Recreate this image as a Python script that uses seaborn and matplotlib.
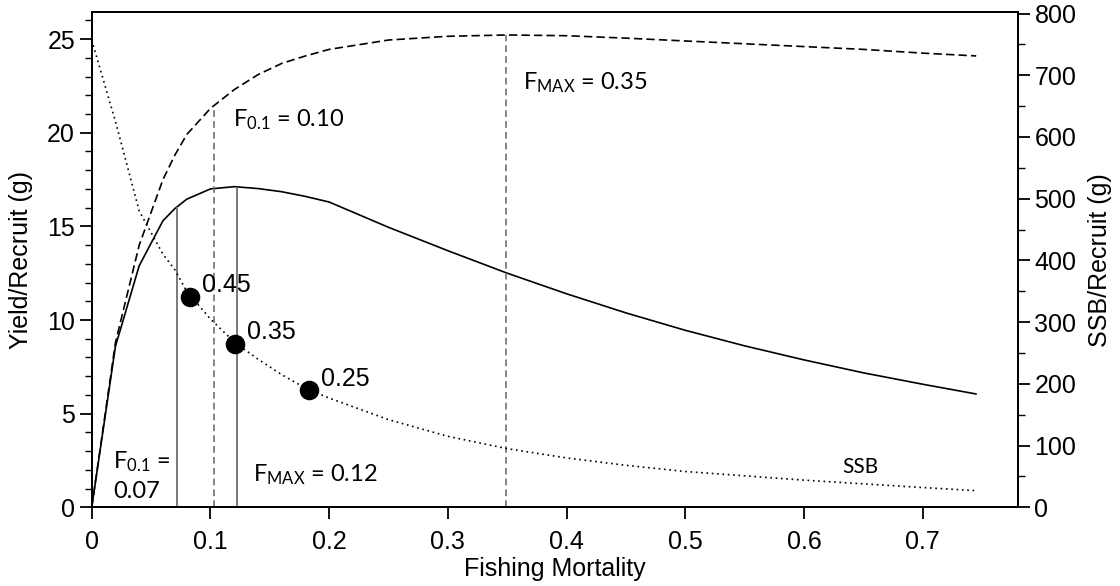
import numpy as np
import pandas as pd
import matplotlib
matplotlib.use("Agg")
import matplotlib.pyplot as plt
from matplotlib.ticker import MultipleLocator, FuncFormatter
import seaborn as sns

# Fishing mortality grid and the three curves
fishing_mortality = [0.0, 0.02, 0.04, 0.06, 0.07, 0.08, 0.10, 0.12, 0.14, 0.16,
                     0.18, 0.20, 0.25, 0.30, 0.35, 0.40, 0.45, 0.50, 0.55,
                     0.60, 0.65, 0.70, 0.745]
ypr_dashed = [0.0, 8.8, 14.0, 17.5, 18.8, 19.9, 21.3, 22.3, 23.1, 23.7,
              24.1, 24.45, 24.95, 25.15, 25.22, 25.18, 25.05, 24.9, 24.75,
              24.6, 24.45, 24.25, 24.1]
ypr_solid = [0.0, 8.6, 12.9, 15.3, 15.95, 16.45, 17.0, 17.12, 17.02, 16.85,
             16.6, 16.3, 14.95, 13.7, 12.5, 11.4, 10.38, 9.45, 8.62,
             7.87, 7.18, 6.57, 6.05]
ssb_per_recruit = [757, 625, 480, 410, 385, 350, 305, 268, 240, 215,
                   193, 177, 142, 115, 95, 80, 68, 58, 51,
                   44, 38, 32, 27]

# reference points (F0.1, Fmax) for both yield curves
ref_solid = [0.072, 0.122]
ref_dashed = [0.103, 0.349]

# %SPR points on the SSB curve
spr_fraction = [0.45, 0.35, 0.25]
spr_mortality = [0.083, 0.121, 0.183]

df = pd.DataFrame({
    "F": fishing_mortality,
    "dashed": ypr_dashed,
    "solid": ypr_solid,
    "ssb": ssb_per_recruit,
})

sns.set_theme(style="ticks")
plt.rcParams["font.family"] = ["Liberation Sans", "DejaVu Sans"]
plt.rcParams["mathtext.default"] = "regular"
plt.rcParams["text.color"] = "black"
plt.rcParams["axes.labelcolor"] = "black"
plt.rcParams["xtick.color"] = "black"
plt.rcParams["ytick.color"] = "black"

fig = plt.figure(figsize=(11.2, 5.86), dpi=100)
ax = fig.add_axes([0.0819, 0.1343, 0.8268, 0.8447])
ax2 = ax.twinx()

# yield per recruit curves
sns.lineplot(data=df, x="F", y="solid", ax=ax, color="black", lw=1.2)
sns.lineplot(data=df, x="F", y="dashed", ax=ax, color="black", lw=1.2,
             linestyle=(0, (5, 2.5)))

# SSB per recruit on the right axis
sns.lineplot(data=df, x="F", y="ssb", ax=ax2, color="black", lw=1.2,
             linestyle=(0, (1, 2.2)))
spr_ssb = [f * ssb_per_recruit[0] for f in spr_fraction]
sns.scatterplot(x=spr_mortality, y=spr_ssb, ax=ax2, color="black", s=170,
                edgecolor="black", zorder=5)

# vertical reference lines up to the curves
for x in ref_solid:
    ax.vlines(x, 0, np.interp(x, fishing_mortality, ypr_solid),
              color="#6f6f6f", lw=1.3)
for x in ref_dashed:
    ax.vlines(x, 0, np.interp(x, fishing_mortality, ypr_dashed),
              color="#6f6f6f", lw=1.2, linestyles=(0, (4, 2.5)))

ann_font = ["Lato", "DejaVu Sans"]
ax.text(0.119, 20.7, r"F$_{0.1}$ = 0.10", fontsize=17, va="center",
        family=ann_font)
ax.text(0.363, 22.65, r"F$_{MAX}$ = 0.35", fontsize=17, va="center",
        family=ann_font)
ax.text(0.018, 2.43, r"F$_{0.1}$ =", fontsize=17, va="center",
        family=ann_font)
ax.text(0.018, 0.83, "0.07", fontsize=17, va="center", family=ann_font)
ax.text(0.136, 1.72, r"F$_{MAX}$ = 0.12", fontsize=17, va="center",
        family=ann_font)
ax.text(0.632, 2.15, "SSB", fontsize=15, va="center", family=ann_font)

for f, xm, ym in zip(spr_fraction, spr_mortality, spr_ssb):
    ax2.text(xm + 0.01, ym + 19, f"{f:.2f}", fontsize=18, va="center")

# axes limits, ticks
ax.set_xlim(0, 0.78)
ax.set_ylim(0, 26.43)
ax2.set_ylim(0, 802)

ax.xaxis.set_major_locator(MultipleLocator(0.1))
ax.xaxis.set_major_formatter(FuncFormatter(lambda v, p: "0" if abs(v) < 1e-9 else f"{v:.1f}"))
ax.yaxis.set_major_locator(MultipleLocator(5))
ax.yaxis.set_minor_locator(MultipleLocator(1))
ax2.yaxis.set_major_locator(MultipleLocator(100))
ax2.yaxis.set_minor_locator(MultipleLocator(50))

ax.tick_params(axis="both", which="major", labelsize=18, length=8.5,
               width=1.3, direction="out", color="black", labelcolor="black")
ax.tick_params(axis="x", which="major", pad=8)
ax.tick_params(axis="y", which="minor", length=5, width=1.0, color="black")
ax2.tick_params(axis="y", which="major", labelsize=18, length=8.5,
                width=1.3, direction="out", color="black", labelcolor="black")
ax2.tick_params(axis="y", which="minor", length=5, width=1.0, color="black")

for a in (ax, ax2):
    for s in a.spines.values():
        s.set_visible(True)
        s.set_color("black")
        s.set_linewidth(1.4)

ax.set_xlabel("Fishing Mortality", fontsize=18, labelpad=2)
ax.set_ylabel("Yield/Recruit (g)", fontsize=18, labelpad=10)
ax2.set_ylabel("SSB/Recruit (g)", fontsize=18, labelpad=8)

fig.savefig("out.png", dpi=100)
